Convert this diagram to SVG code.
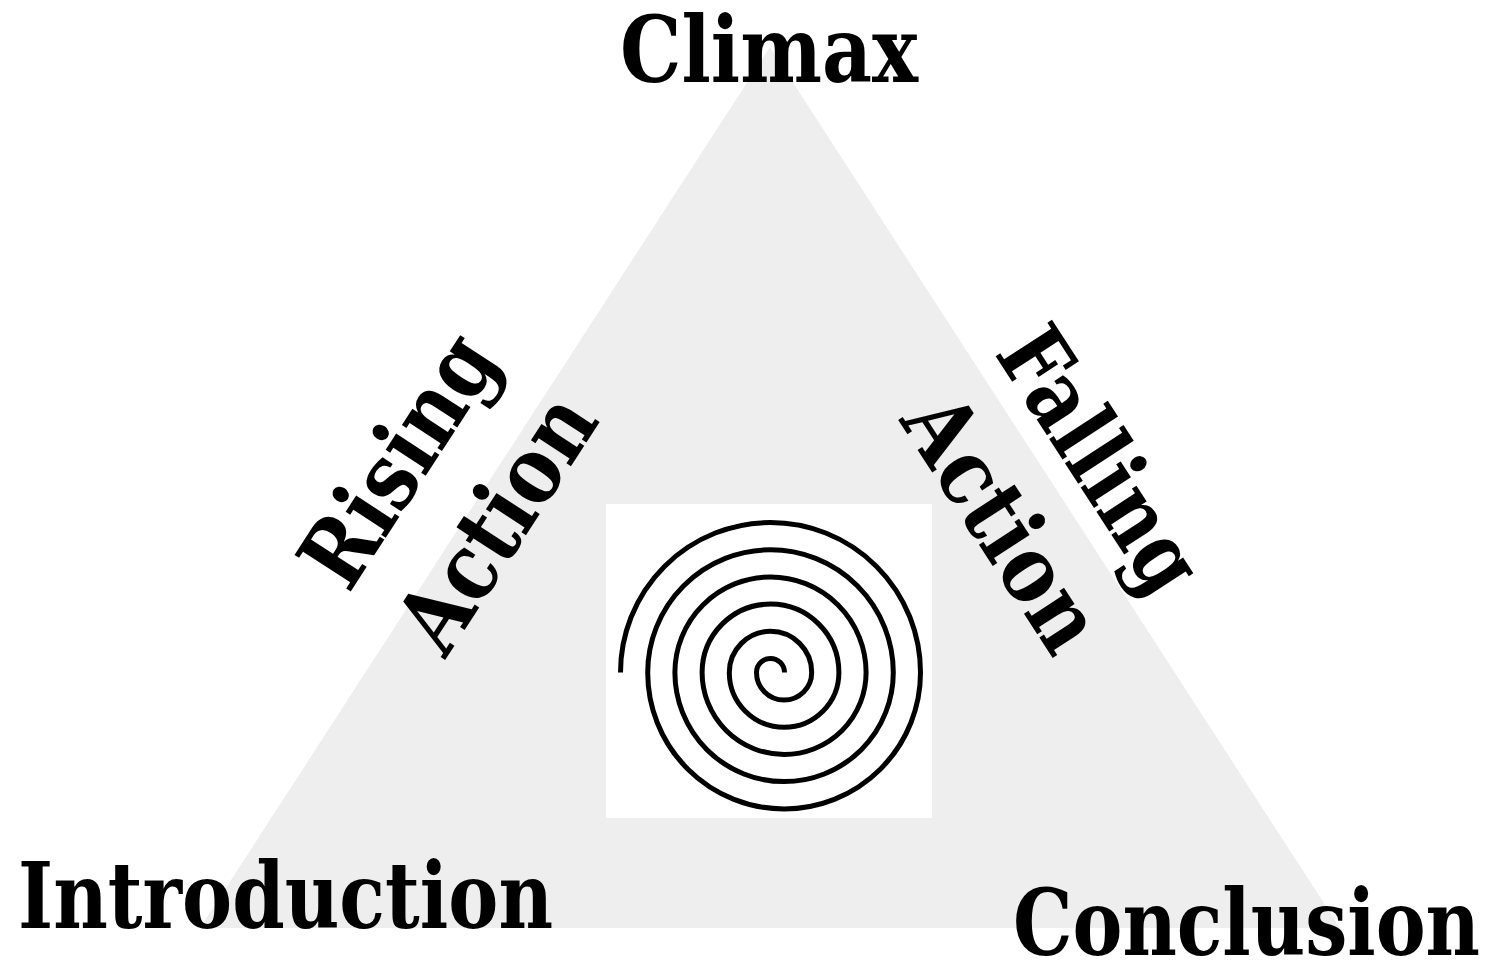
<svg xmlns="http://www.w3.org/2000/svg" width="1489" height="962" viewBox="0 0 1489 962">
  <style>
    .lbl { font-family: "DejaVu Serif", "Liberation Serif", serif; font-weight: bold; font-size: 92px; fill: #000; }
    .mid { text-anchor: middle; }
  </style>
  <rect x="0" y="0" width="1489" height="962" fill="#ffffff"/>
  <g id="triangle">
    <polygon points="770,47 200,928 1340,928" fill="#eeeeee"/>
  </g>
  <g id="spiral">
    <rect x="606" y="504" width="326" height="314" fill="#ffffff"/>
    <path d="M784.5,672.5 A14,14 0 0 0 756.5,672.5 A27.6,27.6 0 0 0 811.7,672.5 A41.2,41.2 0 0 0 729.3,672.5 A54.8,54.8 0 0 0 838.9,672.5 A68.4,68.4 0 0 0 702.1,672.5 A82,82 0 0 0 866.1,672.5 A95.6,95.6 0 0 0 674.9,672.5 A109.2,109.2 0 0 0 893.3,672.5 A122.8,122.8 0 0 0 647.7,672.5 A136.4,136.4 0 0 0 920.5,672.5 A150,150 0 0 0 620.5,672.5" fill="none" stroke="#000" stroke-width="5"/>
  </g>
  <g id="climax">
    <text class="lbl mid" x="769" y="82" textLength="298" lengthAdjust="spacingAndGlyphs">Climax</text>
  </g>
  <g id="introduction">
    <text class="lbl" x="18" y="928" textLength="535" lengthAdjust="spacingAndGlyphs">Introduction</text>
  </g>
  <g id="conclusion">
    <text class="lbl" x="1013" y="955" textLength="467" lengthAdjust="spacingAndGlyphs">Conclusion</text>
  </g>
  <g id="rising-action">
    <text class="lbl mid" transform="translate(425,477) rotate(-57)" x="0" y="0" textLength="280" lengthAdjust="spacingAndGlyphs">Rising</text>
    <text class="lbl mid" transform="translate(523,540) rotate(-57)" x="0" y="0" textLength="285" lengthAdjust="spacingAndGlyphs">Action</text>
  </g>
  <g id="falling-action">
    <text class="lbl mid" transform="translate(1074,477) rotate(57)" x="0" y="0" textLength="295" lengthAdjust="spacingAndGlyphs">Falling</text>
    <text class="lbl mid" transform="translate(976,540) rotate(57)" x="0" y="0" textLength="285" lengthAdjust="spacingAndGlyphs">Action</text>
  </g>
</svg>
